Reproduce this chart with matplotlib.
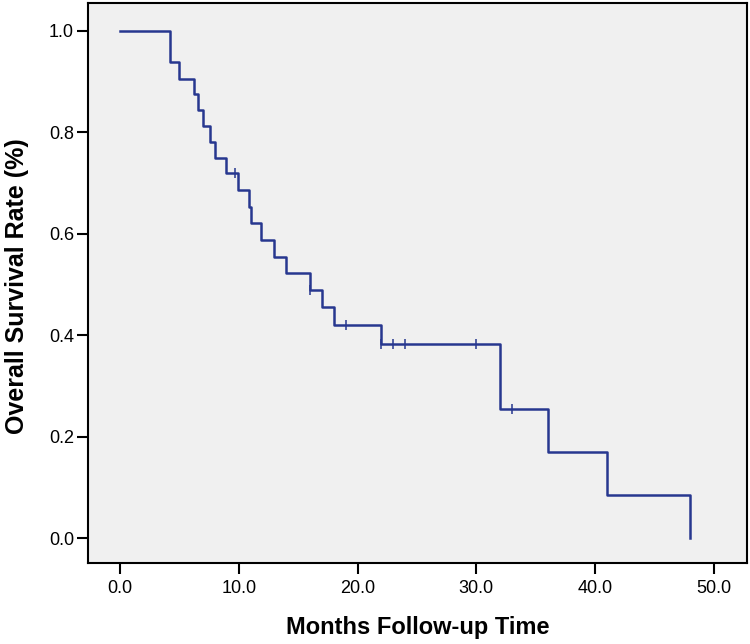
import matplotlib
matplotlib.use('Agg')
import matplotlib.pyplot as plt

# Kaplan-Meier steps
step_months = [0, 4.2, 5.0, 6.2, 6.6, 7.0, 7.6, 8.0, 8.9, 9.9, 10.9, 11.0, 11.9,
               13.0, 14.0, 16.0, 17.0, 18.0, 22.0, 32.0, 36.0, 41.0, 48.0]
step_surv = [1.0, 0.938, 0.906, 0.875, 0.844, 0.813, 0.781, 0.750, 0.719, 0.686,
             0.653, 0.621, 0.588, 0.555, 0.523, 0.490, 0.455, 0.420, 0.382,
             0.255, 0.170, 0.085, 0.0]

# censored cases (the little + marks)
censor_months = [9.7, 16.0, 19.0, 22.0, 23.0, 24.0, 30.0, 33.0]
censor_surv = [0.719, 0.490, 0.420, 0.382, 0.382, 0.382, 0.382, 0.255]

x_ticks = [0, 10, 20, 30, 40, 50]
y_ticks = [0.0, 0.2, 0.4, 0.6, 0.8, 1.0]

plt.rcParams['font.family'] = ['Liberation Sans', 'DejaVu Sans']

fig = plt.figure(figsize=(7.5, 6.44), dpi=100)
ax = fig.add_axes([88 / 750, 1 - 563 / 644, 659 / 750, 560 / 644])
ax.set_facecolor('#f0f0f0')

line_color = '#27378f'
ax.step(step_months, step_surv, where='post', color=line_color, lw=1.8)
ax.plot(censor_months, censor_surv, ls='none', marker='|', ms=7,
        mew=1.1, color=line_color)

ax.set_xlim(-2.7, 52.8)
ax.set_ylim(-0.049, 1.055)

ax.set_xticks(x_ticks)
ax.set_xticklabels([f'{v:.1f}' for v in x_ticks])
ax.set_yticks(y_ticks)
ax.set_yticklabels([f'{v:.1f}' for v in y_ticks])

for s in ax.spines.values():
    s.set_linewidth(1.5)
    s.set_color('black')

ax.tick_params(axis='both', direction='out', length=8, width=1.5,
               labelsize=13, color='black')
ax.tick_params(axis='x', pad=4)
ax.tick_params(axis='y', pad=2)

ax.set_xlabel('Months Follow-up Time', fontsize=17, fontweight='bold')
ax.set_ylabel('Overall Survival Rate (%)', fontsize=18, fontweight='bold')
ax.xaxis.set_label_coords(0.5, -0.094)
ax.yaxis.set_label_coords(-0.09, 0.495)

fig.savefig('out.png', dpi=100)
